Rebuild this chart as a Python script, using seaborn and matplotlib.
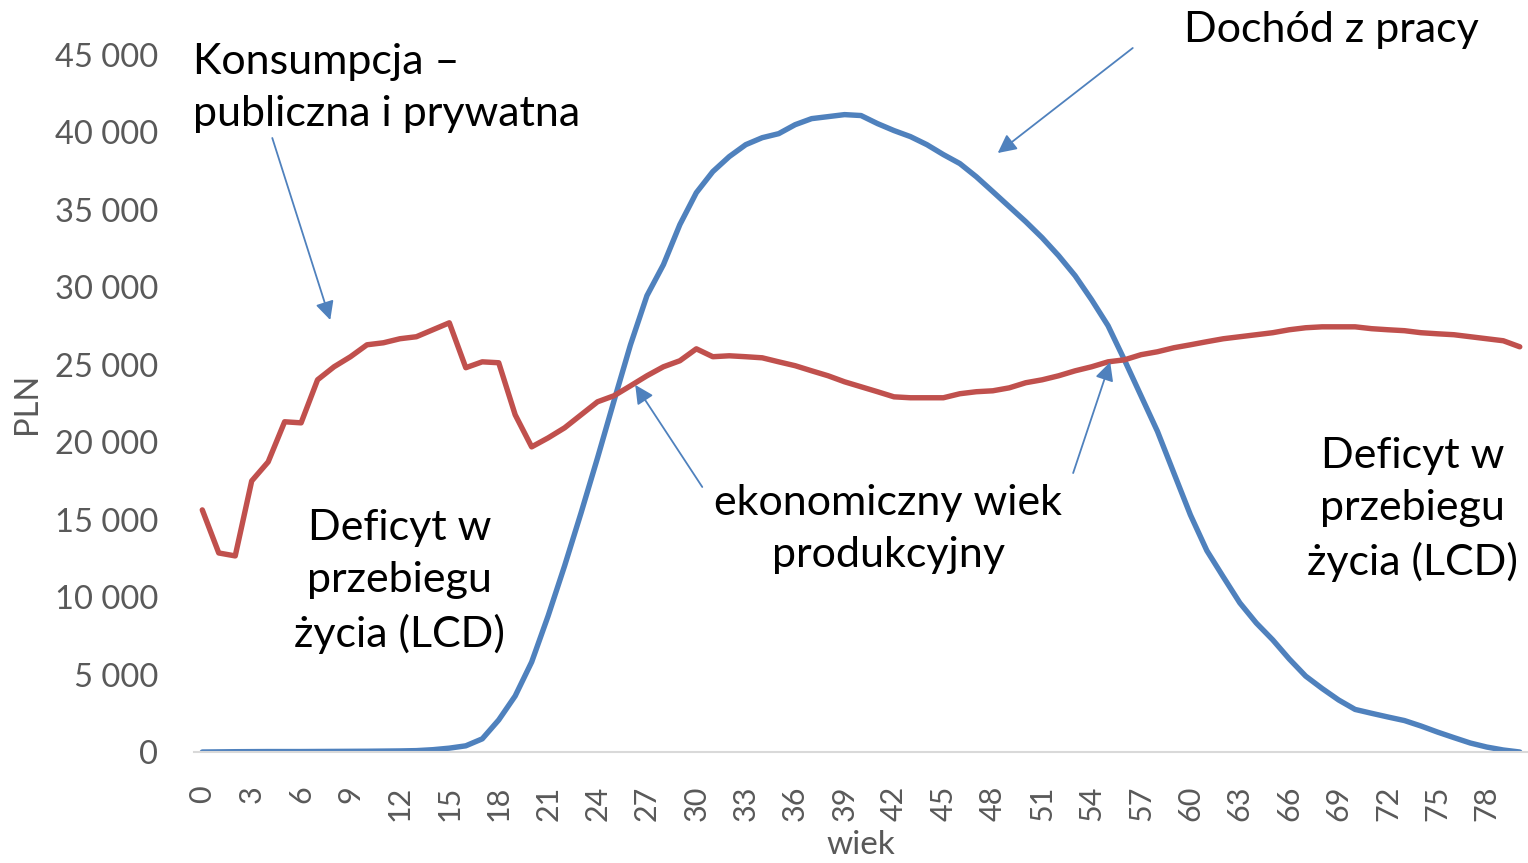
import seaborn as sns
import matplotlib.pyplot as plt
import matplotlib.ticker as mticker
import pandas as pd

# ---- dane ----
wiek = list(range(0, 81))

konsumpcja = [15630, 12850, 12660, 17500, 18730, 21320, 21250, 24030, 24870, 25520,
              26290, 26420, 26680, 26810, 27260, 27710, 24810, 25190, 25130, 21770,
              19700, 20280, 20930, 21770, 22610, 23000, 23640, 24290, 24870, 25260,
              26030, 25520, 25580, 25520, 25450, 25190, 24940, 24610, 24290, 23900,
              23580, 23260, 22930, 22870, 22870, 22870, 23130, 23260, 23320, 23510,
              23840, 24030, 24290, 24610, 24870, 25190, 25320, 25650, 25840, 26100,
              26290, 26490, 26680, 26810, 26940, 27070, 27260, 27390, 27450, 27450,
              27450, 27330, 27260, 27200, 27070, 27000, 26940, 26810, 26680, 26550,
              26160]

dochod = [0, 10, 20, 25, 30, 30, 30, 35, 40, 45,
          50, 60, 70, 90, 150, 250, 400, 850, 2070, 3620,
          5810, 8790, 12020, 15440, 18990, 22670, 26290, 29460, 31460, 34050,
          36110, 37470, 38440, 39210, 39660, 39920, 40500, 40890, 41020, 41150,
          41090, 40570, 40120, 39730, 39210, 38570, 37990, 37140, 36180, 35210,
          34240, 33200, 32040, 30750, 29200, 27520, 25300, 23000, 20700, 18000,
          15310, 13000, 11300, 9630, 8330, 7240, 6010, 4900, 4100, 3360,
          2750, 2500, 2260, 2030, 1680, 1290, 930, 580, 320, 130,
          0]

df = pd.DataFrame({
    'wiek': wiek * 2,
    'PLN': dochod + konsumpcja,
    'seria': ['Dochód z pracy'] * len(wiek) + ['Konsumpcja'] * len(wiek),
})

sns.set_theme(style='white')
plt.rcParams['font.family'] = ['Lato', 'DejaVu Sans']

fig = plt.figure(figsize=(15.28, 8.63), dpi=100)
ax = fig.add_axes([0.127, 0.1286, 0.873, 0.8077])

sns.lineplot(data=df, x='wiek', y='PLN', hue='seria',
             palette={'Dochód z pracy': '#4F81BD', 'Konsumpcja': '#C0504D'},
             linewidth=3.9, legend=False, ax=ax)

ax.set_xlim(-0.5, 80.5)
ax.set_ylim(0, 45000)
ax.set_xticks(range(0, 79, 3))
ax.set_yticks(range(0, 45001, 5000))
ax.yaxis.set_major_formatter(mticker.FuncFormatter(lambda v, p: f'{int(v):,}'.replace(',', ' ')))

gray = '#595959'
ax.tick_params(axis='y', labelsize=23.5, colors=gray, length=0, pad=26)
ax.tick_params(axis='x', labelsize=22, colors=gray, length=0, pad=24, labelrotation=90)
for lab in ax.get_xticklabels():
    lab.set_verticalalignment('top')

ax.set_xlabel('wiek', fontsize=24, color=gray)
ax.set_ylabel('PLN', fontsize=23.5, color=gray)
ax.xaxis.set_label_coords(0.5, -0.112)
ax.yaxis.set_label_coords(-0.114, 0.5)

sns.despine(ax=ax, left=True, top=True, right=True)
ax.spines['bottom'].set_color('#D9D9D9')
ax.spines['bottom'].set_linewidth(1.5)

# ---- opisy ----
txt = dict(fontsize=31, color='black', linespacing=1.45)
ax.text(-0.55, 42870, 'Konsumpcja –\npubliczna i prywatna', ha='left', va='center', **txt)
ax.text(68.55, 46620, 'Dochód z pracy', ha='center', va='center', clip_on=False, **txt)
ax.text(41.65, 14400, 'ekonomiczny wiek\nprodukcyjny', ha='center', va='center', **txt)
ax.text(11.96, 10980, 'Deficyt w\nprzebiegu\nżycia (LCD)', ha='center', va='center', **txt)
ax.text(73.47, 15630, 'Deficyt w\nprzebiegu\nżycia (LCD)', ha='center', va='center', **txt)

arr = dict(arrowstyle='-|>', color='#4F81BD', lw=1.3, mutation_scale=28, shrinkA=0, shrinkB=0)
strzalki = [((4.25, 39640), (7.77, 27890)),
            ((56.5, 45450), (48.3, 38670)),
            ((30.36, 17110), (26.29, 23700)),
            ((52.88, 18010), (55.13, 25180))]
for tail, head in strzalki:
    ax.annotate('', xy=head, xytext=tail, arrowprops=arr, annotation_clip=False)

plt.savefig('out.png', dpi=100)
